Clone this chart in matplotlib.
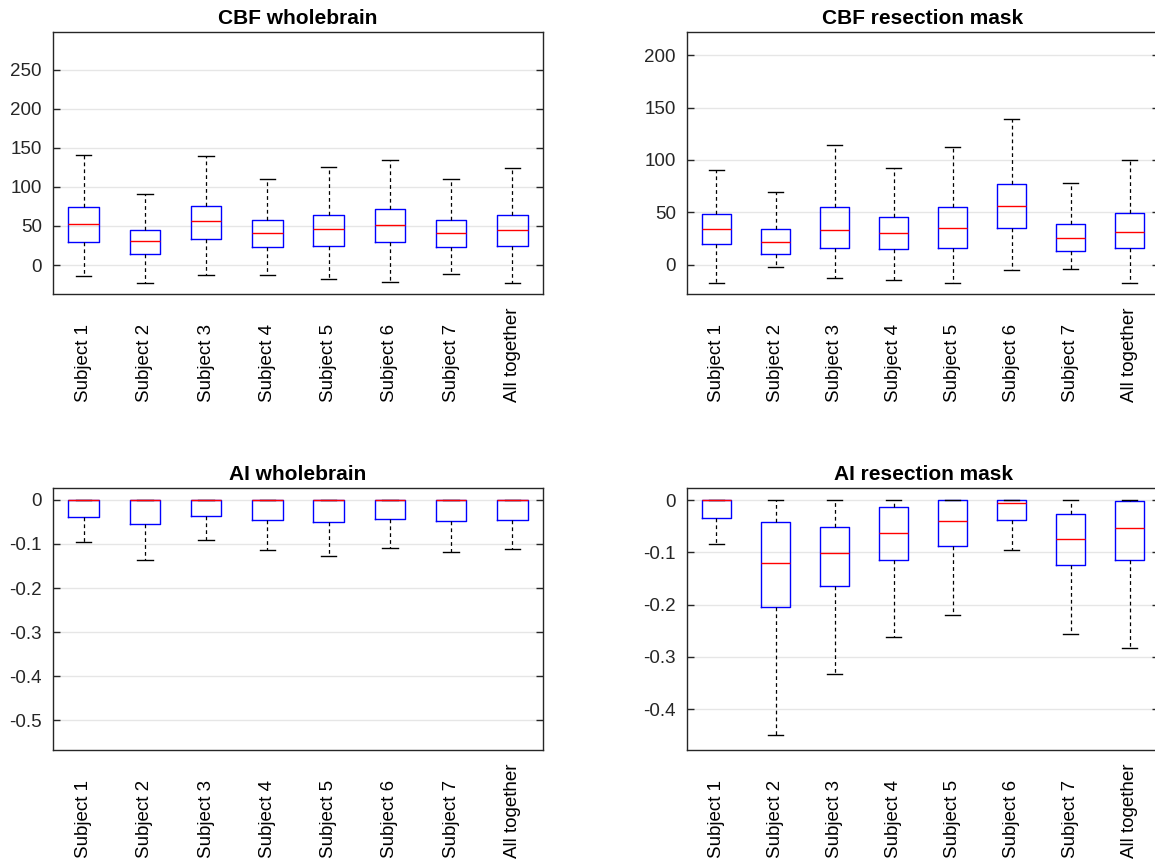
import matplotlib
matplotlib.use("Agg")
import matplotlib.pyplot as plt
from matplotlib.ticker import FormatStrFormatter

# ==========================================
# DATA
# ==========================================

labels = ["Subject 1", "Subject 2", "Subject 3", "Subject 4",
          "Subject 5", "Subject 6", "Subject 7", "All together"]

# CBF wholebrain
cbf_wb_low = [-14.5, -22.6, -12.8, -13.2, -17.9, -21.4, -11.5, -22.6]
cbf_wb_q1 = [29.5, 14.5, 33.8, 23.0, 24.4, 29.0, 23.0, 24.4]
cbf_wb_med = [52.6, 30.3, 56.0, 41.5, 45.7, 51.3, 40.6, 44.4]
cbf_wb_q3 = [74.0, 44.9, 76.0, 58.0, 64.5, 71.4, 58.0, 64.5]
cbf_wb_high = [141.0, 90.6, 140.0, 110.7, 125.6, 135.0, 109.8, 124.4]

# CBF resection mask
cbf_rm_low = [-17.5, -2.5, -12.4, -14.6, -17.5, -5.1, -4.5, -17.5]
cbf_rm_q1 = [19.7, 10.2, 15.6, 14.9, 15.9, 34.7, 13.4, 15.9]
cbf_rm_med = [33.7, 21.9, 33.1, 30.5, 35.0, 56.0, 25.8, 31.5]
cbf_rm_q3 = [48.3, 33.7, 54.7, 45.8, 54.7, 76.6, 39.1, 49.6]
cbf_rm_high = [90.6, 69.6, 114.1, 92.5, 112.6, 138.6, 77.9, 99.8]

# AI wholebrain
ai_wb_low = [-0.0964, -0.137, -0.091, -0.114, -0.127, -0.108, -0.118, -0.112]
ai_wb_q1 = [-0.0387, -0.0546, -0.0364, -0.0463, -0.050, -0.0432, -0.047, -0.0455]
ai_wb_med = [0, 0, 0, 0, 0, 0, 0, 0]
ai_wb_q3 = [0, 0, 0, 0, 0, 0, 0, 0]
ai_wb_high = [0, 0, 0, 0, 0, 0, 0, 0]

# AI resection mask
ai_rm_low = [-0.0849, -0.449, -0.332, -0.262, -0.2199, -0.0952, -0.257, -0.2836]
ai_rm_q1 = [-0.034, -0.2045, -0.164, -0.1138, -0.0881, -0.038, -0.1248, -0.115]
ai_rm_med = [0, -0.120, -0.102, -0.063, -0.0399, -0.0058, -0.074, -0.054]
ai_rm_q3 = [0, -0.0424, -0.0514, -0.0141, 0, 0, -0.027, -0.0026]
ai_rm_high = [0, 0, 0, 0, 0, 0, 0, 0]

# ==========================================
# SETTINGS
# ==========================================

plt.rcParams["font.family"] = ["Liberation Sans", "DejaVu Sans"]
plt.rcParams["axes.unicode_minus"] = False

AX_COLOR = "#262626"
GRID_COLOR = "#e6e6e6"

panels = [
    ("CBF wholebrain", [0.0459, 0.6597, 0.4242, 0.3032],
     (cbf_wb_low, cbf_wb_q1, cbf_wb_med, cbf_wb_q3, cbf_wb_high),
     [0, 50, 100, 150, 200, 250], (-37, 298), "%g"),
    ("CBF resection mask", [0.5948, 0.6597, 0.4087, 0.3032],
     (cbf_rm_low, cbf_rm_q1, cbf_rm_med, cbf_rm_q3, cbf_rm_high),
     [0, 50, 100, 150, 200], (-28, 222), "%g"),
    ("AI wholebrain", [0.0459, 0.1319, 0.4242, 0.3032],
     (ai_wb_low, ai_wb_q1, ai_wb_med, ai_wb_q3, ai_wb_high),
     [-0.5, -0.4, -0.3, -0.2, -0.1, 0], (-0.568, 0.027), "%g"),
    ("AI resection mask", [0.5948, 0.1319, 0.4087, 0.3032],
     (ai_rm_low, ai_rm_q1, ai_rm_med, ai_rm_q3, ai_rm_high),
     [-0.4, -0.3, -0.2, -0.1, 0], (-0.478, 0.023), "%g"),
]

# ==========================================
# PLOT
# ==========================================

fig = plt.figure(figsize=(11.55, 8.64), dpi=100)

for title, pos, (lo, q1, med, q3, hi), yticks, ylim, fmt in panels:
    ax = fig.add_axes(pos)

    stats = []
    for i in range(len(labels)):
        stats.append({
            "whislo": lo[i], "q1": q1[i], "med": med[i],
            "q3": q3[i], "whishi": hi[i], "fliers": [],
        })

    ax.bxp(
        stats,
        positions=range(1, len(labels) + 1),
        widths=0.5,
        capwidths=0.25,
        showfliers=False,
        boxprops=dict(color="blue", linewidth=1.0),
        medianprops=dict(color="red", linewidth=1.0),
        whiskerprops=dict(color="black", linestyle=(0, (3, 2.5)), linewidth=0.9),
        capprops=dict(color="black", linewidth=1.0),
    )

    ax.set_xlim(0.5, len(labels) + 0.5)
    ax.set_ylim(*ylim)
    ax.set_yticks(yticks)
    ax.yaxis.set_major_formatter(FormatStrFormatter(fmt))
    ax.grid(axis="y", color=GRID_COLOR, linewidth=1.0)
    ax.set_axisbelow(True)

    ax.set_xticks(range(1, len(labels) + 1))
    ax.set_xticklabels(labels, rotation=90, va="bottom", ha="center")
    ax.tick_params(axis="x", length=0, pad=78, labelsize=13.5, labelcolor="black")
    ax.tick_params(axis="y", direction="in", length=5, width=1, right=True,
                   colors=AX_COLOR, labelsize=13.5, pad=8)

    for spine in ax.spines.values():
        spine.set_color(AX_COLOR)
        spine.set_linewidth(1.0)

    ax.set_title(title, fontsize=15, fontweight="bold", pad=6)

fig.savefig("out.png", dpi=100)
